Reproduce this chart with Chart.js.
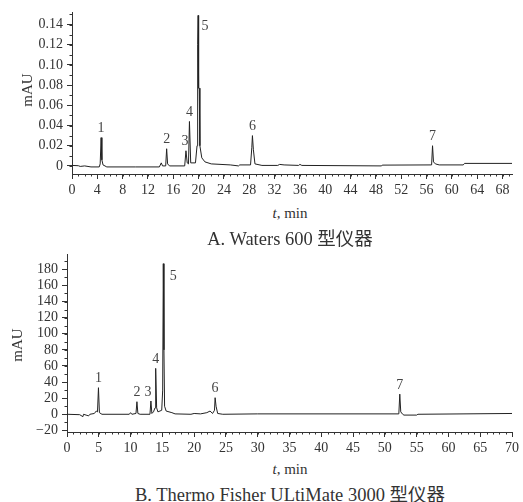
<!DOCTYPE html>
<html>
<head>
<meta charset="utf-8">
<script src="https://cdn.jsdelivr.net/npm/chart.js@4.4.0/dist/chart.umd.min.js"></script>
<style>
body { margin: 0; background: #fff; }
#wrap { position: relative; width: 523px; height: 502px; font-family: "Liberation Serif", "Noto Sans CJK SC", serif; color: #333; }
canvas { position: absolute; left: 0; }
.txt { position: absolute; white-space: nowrap; transform: translateX(-50%); }
.ylab { position: absolute; font-size: 15px; transform: translate(-50%, -50%) rotate(-90deg); }
</style>
</head>
<body>
<div id="wrap">
  <canvas id="chartA" width="523" height="200" style="top:0"></canvas>
  <canvas id="chartB" width="523" height="220" style="top:240px"></canvas>
  <div class="ylab" style="left:27px; top:90px;">mAU</div>
  <div class="ylab" style="left:17px; top:345px;">mAU</div>
  <div class="txt" style="left:290px; top:205px; font-size:15px;"><i>t</i>, min</div>
  <div class="txt" style="left:290px; top:224px; font-size:18.5px;">A. Waters 600 型仪器</div>
  <div class="txt" style="left:290px; top:461px; font-size:15px;"><i>t</i>, min</div>
  <div class="txt" style="left:290px; top:480px; font-size:18.5px;">B. Thermo Fisher ULtiMate 3000 型仪器</div>
</div>
<script>
// chromatogram A (Waters 600), time in min / absorbance in mAU
var timeA = [0, 1, 1.3, 2, 3, 4.3, 4.45, 4.6, 4.72, 4.9, 5.5, 10, 13.8, 14.1, 14.3, 14.8, 14.95, 15.1, 15.4,
  17.8, 18.0, 18.2, 18.4, 18.55, 18.75, 19.5, 19.75, 19.85, 19.92, 19.98, 20.02, 20.1, 20.2, 20.5, 21, 22, 25,
  26.3, 26.5, 28.2, 28.4, 28.5, 28.65, 28.9, 30, 32.5, 32.8, 33.5, 35.8, 36, 36.3, 48.9, 49, 56.8, 56.95,
  57.1, 57.4, 58, 61.8, 62, 69.5];
var signalA = [0.0005, 0.0002, -0.0005, 0, -0.001, -0.001, 0.002, 0.028, 0.006, 0.001, -0.001, -0.001, -0.001, 0.003, 0, 0, 0.017, 0.002, 0,
  0, 0.015, 0.003, 0.002, 0.044, 0.003, 0.003, 0.02, 0.12, 0.149, 0.12, 0.077, 0.077, 0.02, 0.008, 0.004, 0.002, 0.001,
  0, 0.001, 0.001, 0.018, 0.030, 0.016, 0.002, 0.0005, 0.0005, 0.0015, 0.001, 0.0005, 0.0015, 0.0005, 0, 0.0008, 0.001, 0.020,
  0.004, 0.002, 0.001, 0.001, 0.0025, 0.0025];
var peakNoA = ['1', '2', '3', '4', '5', '6', '7'];
var peakTimeA = [4.6, 14.95, 18.0, 18.55, 19.92, 28.5, 56.95];
var peakTopA = [0.028, 0.017, 0.015, 0.044, 0.149, 0.030, 0.020];

// chromatogram B (Thermo Fisher ULtiMate 3000)
var timeB = [0, 2, 2.5, 2.6, 3, 3.4, 3.6, 4.3, 4.6, 4.8, 4.95, 5.1, 5.5, 9.8, 10, 10.2, 10.85, 11, 11.15, 11.5,
  13.05, 13.2, 13.35, 13.6, 13.85, 13.95, 14.1, 14.3, 14.9, 15.05, 15.15, 15.25, 15.35, 15.6, 16.5, 17, 19.5, 20,
  21, 22, 22.5, 22.9, 23.2, 23.3, 23.45, 23.7, 24.5, 30, 52.2, 52.35, 52.5, 52.8, 53, 55, 55.2, 70];
var signalB = [0, -0.5, -3, 0, -1, -2, 0, 1, 4, 3, 33, 2, 0, 0, 2, 0, 1, 15.6, 1, 0,
  0, 16.5, 1, 3, 8, 57, 8, 3, 5, 30, 187, 80, 10, 4, 2, 0.5, 0, 1,
  0.5, 2, 4, 1, 5, 20.6, 10, 1, 0, 0.5, 0.5, 25, 3, 0, -1, -1, 0, 1];
var peakNoB = ['1', '2', '3', '4', '5', '6', '7'];
var peakTimeB = [4.95, 11, 13.2, 13.95, 15.15, 23.3, 52.35];
var peakTopB = [33, 15.6, 16.5, 57, 187, 20.6, 25];

var FONT = { family: '"Liberation Serif", serif', size: 14 };
var INK = '#333';

function pts(xs, ys) {
    return xs.map(function(x, i) { return { x: x, y: ys[i] }; });
}

// peak numbers above each apex
var peakLabels = {
    id: 'peakLabels',
    afterDatasetsDraw: function(chart, args, opts) {
        var ctx = chart.ctx, sx = chart.scales.x, sy = chart.scales.y;
        ctx.save();
        ctx.font = '14px "Liberation Serif", serif';
        ctx.fillStyle = '#444';
        ctx.textAlign = 'center';
        ctx.textBaseline = 'bottom';
        opts.names.forEach(function(n, i) {
            var off = (opts.shift && opts.shift[n]) || [0, 0];
            ctx.fillText(n, sx.getPixelForValue(opts.times[i]) + off[0], sy.getPixelForValue(opts.tops[i]) - 2 + off[1]);
        });
        ctx.restore();
    }
};

// small minor ticks along both axes
var minorTicks = {
    id: 'minorTicks',
    afterDraw: function(chart, args, opts) {
        var ctx = chart.ctx, a = chart.chartArea, sx = chart.scales.x, sy = chart.scales.y;
        ctx.save();
        ctx.strokeStyle = INK;
        ctx.lineWidth = 1;
        ctx.beginPath();
        for (var v = sx.min; v <= sx.max; v += opts.xStep) {
            var px = Math.round(sx.getPixelForValue(v)) + 0.5;
            ctx.moveTo(px, a.bottom);
            ctx.lineTo(px, a.bottom + 2.5);
        }
        for (var w = opts.yFrom; w <= sy.max; w += opts.yStep) {
            var py = Math.round(sy.getPixelForValue(w)) + 0.5;
            ctx.moveTo(a.left, py);
            ctx.lineTo(a.left - 2.5, py);
        }
        ctx.stroke();
        ctx.restore();
    }
};

function stepTicks(from, to, step) {
    var t = [];
    for (var k = 0; from + k * step <= to + 1e-9; k++) t.push({ value: +(from + k * step).toFixed(4) });
    return t;
}

function makeChart(id, data, xMax, xStep, yMin, yMax, yFrom, yStep, yFmt, padTop, yWidth, xHeight, labelOpts, minorOpts) {
    return new Chart(document.getElementById(id).getContext('2d'), {
        type: 'line',
        data: {
            datasets: [{
                data: data,
                borderColor: '#222',
                borderWidth: 1,
                pointRadius: 0,
                tension: 0
            }]
        },
        options: {
            responsive: false,
            animation: false,
            layout: { padding: { top: padTop, right: 11, left: 0, bottom: 0 } },
            plugins: {
                legend: { display: false },
                tooltip: { enabled: false },
                peakLabels: labelOpts,
                minorTicks: minorOpts
            },
            scales: {
                x: {
                    type: 'linear',
                    min: 0,
                    max: xMax,
                    afterFit: function(s) { s.height = xHeight; },
                    afterBuildTicks: function(s) { s.ticks = stepTicks(0, xMax, xStep); },
                    ticks: { font: FONT, color: INK, padding: 3, maxRotation: 0, autoSkip: false },
                    grid: { drawOnChartArea: false, drawTicks: true, tickLength: 5, color: INK },
                    border: { display: true, color: INK }
                },
                y: {
                    min: yMin,
                    max: yMax,
                    afterFit: function(s) { s.width = yWidth; },
                    afterBuildTicks: function(s) { s.ticks = stepTicks(yFrom, yMax, yStep); },
                    ticks: { font: FONT, color: INK, padding: 4, autoSkip: false, callback: yFmt },
                    grid: { drawOnChartArea: false, drawTicks: true, tickLength: 5, color: INK },
                    border: { display: true, color: INK }
                }
            }
        },
        plugins: [peakLabels, minorTicks]
    });
}

makeChart('chartA', pts(timeA, signalA), 69.5, 4, -0.008, 0.152, 0, 0.02,
    function(v) { return v === 0 ? '0' : v.toFixed(2); },
    12, 72, 26,
    { names: peakNoA, times: peakTimeA, tops: peakTopA, shift: { '3': [-1, 0], '5': [7, 20] } },
    { xStep: 1, yStep: 0.01, yFrom: 0 });

makeChart('chartB', pts(timeB, signalB), 70, 5, -22, 199, -20, 20,
    function(v) { return v < 0 ? '\u2212' + Math.abs(v) : String(v); },
    14, 67, 28,
    { names: peakNoB, times: peakTimeB, tops: peakTopB, shift: { '3': [-3, 0], '5': [10, 22] } },
    { xStep: 1, yStep: 10, yFrom: -20 });
</script>
</body>
</html>
